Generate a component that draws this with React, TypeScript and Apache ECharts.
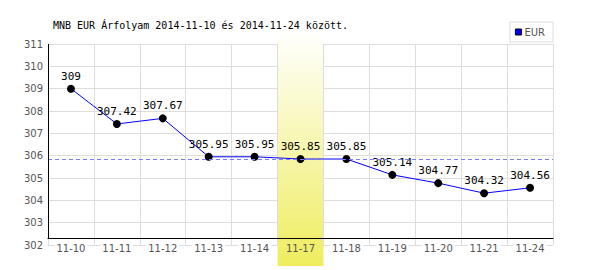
import React, { useEffect, useRef } from "react";
import * as echarts from "echarts";

const TITLE = "MNB EUR Árfolyam 2014-11-10 és 2014-11-24 között.";
const SERIES_NAME = "EUR";
const categories = ["11-10", "11-11", "11-12", "11-13", "11-14", "11-17", "11-18", "11-19", "11-20", "11-21", "11-24"];
const values = [309, 307.42, 307.67, 305.95, 305.95, 305.85, 305.85, 305.14, 304.77, 304.32, 304.56];
const HIGHLIGHT = "11-17";
const REFERENCE_LINE = 305.85;
const Y_MIN = 302;
const Y_MAX = 311;
const Y_STEP = 1;

const X_AXIS_OFFSET = -7;

export default function App() {
  const ref = useRef<HTMLDivElement>(null);
  useEffect(() => {
    if (!ref.current) return;
    const chart = echarts.init(ref.current, null, { renderer: "svg" });
    const gridLeft = 48;
    const option: any = {
      animation: false,
      backgroundColor: "#ffffff",
      title: {
        text: TITLE,
        left: 53,
        top: 20,
        padding: 0,
        textStyle: { fontFamily: "DejaVu Sans Mono", fontSize: 10, fontWeight: "normal", color: "#000" },
      },
      legend: {
        right: 47,
        top: 22,
        padding: [5, 8, 5, 5],
        borderColor: "#dddddd",
        borderWidth: 1,
        itemWidth: 6,
        itemHeight: 6,
        itemGap: 2,
        icon: "rect",
        data: [{ name: SERIES_NAME, itemStyle: { color: "#0000ff", borderColor: "#000", borderWidth: 1 } }],
        textStyle: { fontFamily: "DejaVu Sans", fontSize: 10, color: "#555", padding: [0, 0, 0, -2] },
      },
      grid: { left: gridLeft, right: 47, top: 44, bottom: 25 },
      xAxis: {
        type: "category",
        data: categories,
        boundaryGap: true,
        offset: X_AXIS_OFFSET,
        z: 3,
        axisLine: { show: true, lineStyle: { color: "#000", width: 1 } },
        axisTick: { show: false },
        splitLine: { show: true, lineStyle: { color: "#dddddd", width: 1 } },
        axisLabel: {
          margin: 4,
          interval: 0,
          color: "#555",
          fontFamily: "DejaVu Sans",
          fontSize: 10,
          formatter: (v: string) => (v === HIGHLIGHT ? `{h|${v}}` : `{n|${v}}`),
          rich: {
            n: { fontFamily: "DejaVu Sans", fontSize: 10, color: "#555", backgroundColor: "#fff", padding: [1, 2] },
            h: { fontFamily: "DejaVu Sans", fontSize: 10, color: "#555", padding: [1, 2] },
          },
        },
      },
      yAxis: {
        type: "value",
        min: Y_MIN,
        max: Y_MAX,
        interval: Y_STEP,
        z: 0,
        axisLine: { show: false },
        axisTick: { show: false },
        splitLine: { show: true, lineStyle: { color: "#dddddd", width: 1 } },
        axisLabel: { margin: 5, fontFamily: "DejaVu Sans", fontSize: 10, color: "#555" },
      },
      series: [
        {
          name: SERIES_NAME,
          type: "line",
          data: values,
          z: 4,
          color: "#0000ff",
          lineStyle: { color: "#0000ff", width: 1 },
          symbol: "circle",
          symbolSize: 8,
          itemStyle: { color: "#000" },
          label: {
            show: true,
            position: "top",
            distance: 3,
            fontFamily: "DejaVu Sans Mono",
            fontSize: 11,
            color: "#000",
            formatter: (p: any) => String(p.value),
          },
          markLine: {
            silent: true,
            symbol: "none",
            label: { show: false },
            lineStyle: { color: "#7b7bff", type: [4, 3], width: 1, opacity: 1 },
            emphasis: { disabled: true },
            data: [{ yAxis: REFERENCE_LINE }],
          },
        },
      ],
    };
    chart.setOption(option);

    const idx = categories.indexOf(HIGHLIGHT);
    const c0 = chart.convertToPixel({ xAxisIndex: 0 }, categories[0]) as number;
    const c1 = chart.convertToPixel({ xAxisIndex: 0 }, categories[1]) as number;
    const cw = c1 - c0;
    const cx = chart.convertToPixel({ xAxisIndex: 0 }, categories[idx]) as number;
    const yTop = chart.convertToPixel({ yAxisIndex: 0 }, Y_MAX) as number;
    const yBottom = chart.convertToPixel({ yAxisIndex: 0 }, Y_MIN) as number;
    const axisY = yBottom + X_AXIS_OFFSET;

    chart.setOption({
      graphic: [
        {
          type: "rect",
          z: 1,
          silent: true,
          shape: { x: cx - cw / 2, y: 30, width: cw, height: 236 },
          style: {
            fill: new echarts.graphic.LinearGradient(0, 0, 0, 1, [
              { offset: 0, color: "#ffffff" },
              { offset: 1, color: "#efed5e" },
            ]),
          },
        },
        {
          type: "line",
          z: 5,
          silent: true,
          shape: { x1: gridLeft + 0.5, y1: yTop, x2: gridLeft + 0.5, y2: axisY },
          style: { stroke: "#000", lineWidth: 1 },
        },
      ],
    });
    return () => chart.dispose();
  }, []);
  return <div ref={ref} style={{ position: "absolute", left: 0, top: 0, width: 600, height: 270 }} />;
}
